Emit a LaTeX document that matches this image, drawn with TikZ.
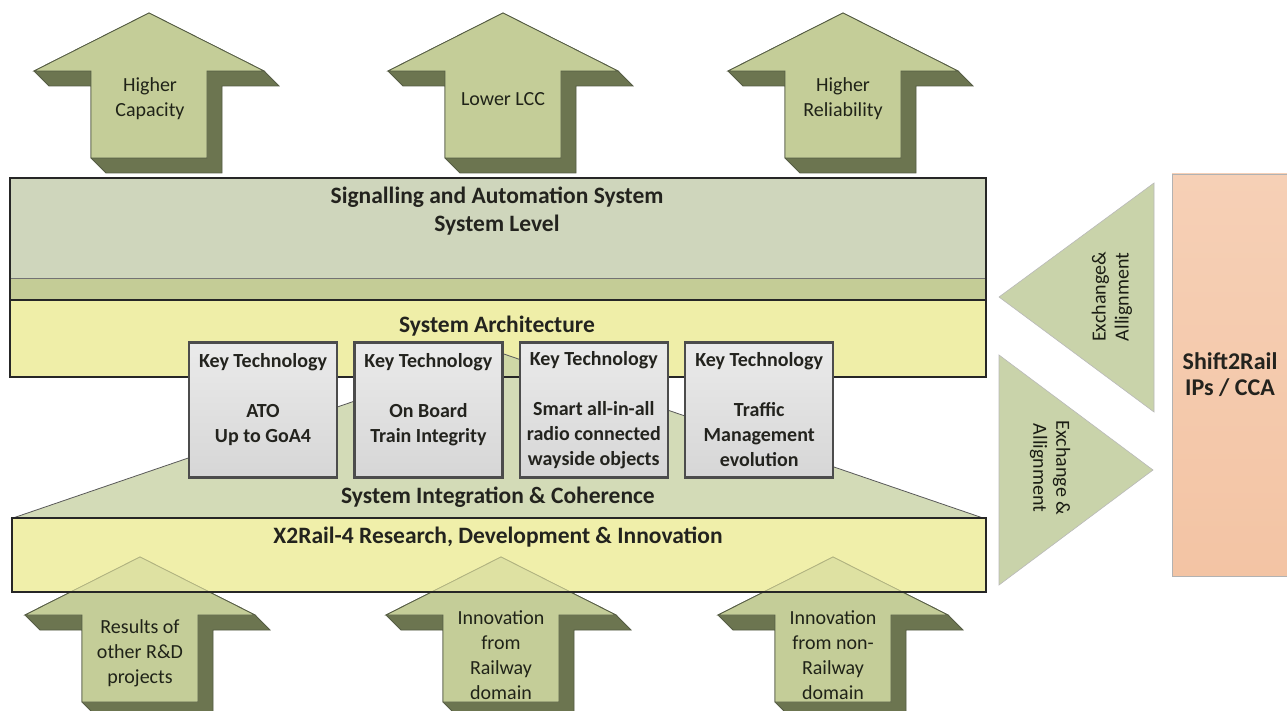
\documentclass[tikz,border=0pt]{standalone}
\usepackage{fontspec}
\setmainfont{Carlito}
\usepackage{xcolor}
\usepackage{tikz}
\usetikzlibrary{positioning}

\definecolor{levelfill}{RGB}{207,214,188}
\definecolor{bandfill}{RGB}{196,204,150}
\definecolor{archfill}{RGB}{239,238,168}
\definecolor{rdifill}{RGB}{240,239,170}
\definecolor{integfill}{RGB}{200,210,166}
\definecolor{arrowlight}{RGB}{196,205,152}
\definecolor{arrowdark}{RGB}{108,117,80}
\definecolor{arrowline}{RGB}{85,92,68}
\definecolor{exfill}{RGB}{201,211,170}
\definecolor{s2rtop}{RGB}{246,208,182}
\definecolor{s2rbottom}{RGB}{243,196,164}
\definecolor{textdark}{RGB}{35,35,30}

\begin{document}
\begin{tikzpicture}[
    x=1pt, y=-1pt,
    bar/.style={draw=black!85, line width=2.4pt},
    title/.style={font=\bfseries\fontsize{23.5}{28}\selectfont, align=center, text=textdark},
    arrowtext/.style={font=\fontsize{20}{25}\selectfont, align=center, text=black!70!arrowdark},
    keybox/.style={rectangle, draw=black!70, line width=2.4pt, top color=gray!16, bottom color=gray!32, minimum width=148pt, minimum height=135pt, inner sep=0pt, align=center, font=\bfseries\fontsize{20}{25}\selectfont, text=textdark},
    extri/.style={fill=exfill, draw=gray!55, line width=0.6pt},
    extext/.style={font=\fontsize{20}{23}\selectfont, align=center, text=black!75!arrowdark},
    fatup/.pic={
        \filldraw[fill=arrowdark, draw=arrowline, line width=0.8pt]
            (0,0) -- (-115,58) -- (-100,73) -- (-58,73) -- (-58,145) -- (-43,160)
            -- (73,160) -- (73,73) -- (130,73) -- (115,58) -- cycle;
        \filldraw[fill=arrowlight, draw=arrowline, line width=0.8pt]
            (0,0) -- (-115,58) -- (-58,58) -- (-58,145) -- (58,145) -- (58,58)
            -- (115,58) -- cycle;
    }
]
    \useasboundingbox (0,0) rectangle (1287,711);
    \fill[white] (0,0) rectangle (1287,711);

    % Benefit arrows (top)
    \pic at (149,13) {fatup};
    \pic at (503,13) {fatup};
    \pic at (843,13) {fatup};
    \node[arrowtext] (capacity) at (150,99) {Higher\\Capacity};
    \node[arrowtext] (lcc) at (503,99) {Lower LCC};
    \node[arrowtext] (reliability) at (843,99) {Higher\\Reliability};

    % System level box
    \fill[levelfill] (10,178) rectangle (986,278);
    \fill[bandfill] (10,278) rectangle (986,300);
    \draw[black!55, line width=0.8pt] (10,278) -- (986,278);
    \draw[bar] (10,178) rectangle (986,300);
    \node[title] (leveltitle) at (497,211) {Signalling and Automation System\\System Level};

    % System architecture and integration
    \fill[archfill] (10,300) rectangle (986,377);
    \filldraw[fill=integfill, fill opacity=0.8, draw=gray!70!black, line width=0.8pt]
        (13,518) -- (498,352) -- (983,518) -- cycle;
    \draw[bar] (10,300) rectangle (986,377);
    \node[title] (archtitle) at (497,326) {System Architecture};
    \node[title] (integtitle) at (498,497) {System Integration \& Coherence};

    % Input arrows (bottom)
    \fill[rdifill] (12,518) rectangle (986,592);
    \pic at (140,557) {fatup};
    \pic at (501,557) {fatup};
    \pic at (833,557) {fatup};
    \fill[rdifill, fill opacity=0.6] (12,518) rectangle (986,592);
    \draw[bar] (12,518) rectangle (986,592);
    \node[title] (rdititle) at (498,537) {X2Rail-4 Research, Development \& Innovation};
    \node[arrowtext] (results) at (140,653) {Results of\\other R\&D\\projects};
    \node[arrowtext] (railway) at (501,655) {Innovation\\from\\Railway\\domain};
    \node[arrowtext] (nonrailway) at (833,655) {Innovation\\from non-\\Railway\\domain};

    % Key technology boxes
    \node[keybox] (kt1) at (263,410) {Key Technology\\~\\ATO\\Up to GoA4\\~};
    \node[keybox, right=15pt of kt1] (kt2) {Key Technology\\~\\On Board\\Train Integrity\\~};
    \node[keybox, right=15pt of kt2] (kt3) {Key Technology\\~\\Smart all-in-all\\radio connected\\wayside objects};
    \node[keybox, right=15pt of kt3] (kt4) {Key Technology\\~\\Traffic\\Management\\evolution};

    % Exchange with Shift2Rail
    \filldraw[extri] (999,297) -- (1154,183) -- (1154,412) -- cycle;
    \filldraw[extri] (999,355) -- (1153,470) -- (999,585) -- cycle;
    \node[extext, rotate=90] (exup) at (1112,297) {Exchange\&\\Allignment};
    \node[extext, rotate=-90] (exdown) at (1050,468) {Exchange \&\\Allignment};
    \filldraw[top color=s2rtop, bottom color=s2rbottom, draw=gray!60, line width=0.8pt]
        (1172,174) rectangle (1292,576);
    \node[font=\bfseries\fontsize{24}{26}\selectfont, align=center, text=textdark] (s2r) at (1230,375) {Shift2Rail\\IPs / CCA};
\end{tikzpicture}
\end{document}
